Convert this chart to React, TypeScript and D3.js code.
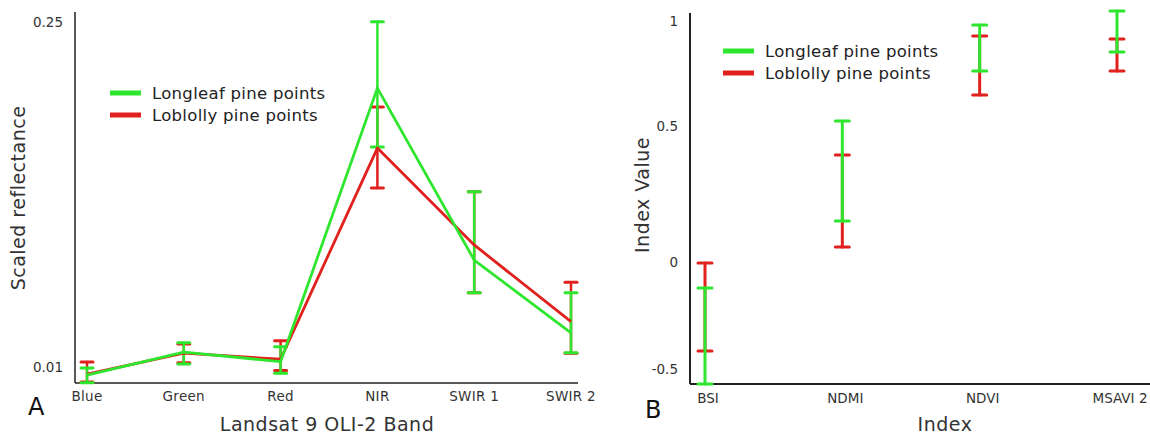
import React from "react";
import * as d3 from "d3";

// ---- Panel A data ----
const bands = ["Blue", "Green", "Red", "NIR", "SWIR 1", "SWIR 2"];
const longleafMean = [0.0044, 0.0204, 0.0137, 0.204, 0.0844, 0.0337];
const longleafHigh = [0.0093, 0.0269, 0.0241, 0.2502, 0.132, 0.0617];
const longleafLow = [-0.001, 0.0121, 0.0056, 0.163, 0.0617, 0.0199];
const loblollyMean = [0.005, 0.0197, 0.0154, 0.1623, 0.0949, 0.0415];
const loblollyHigh = [0.0135, 0.026, 0.0283, 0.1909, 0.132, 0.069];
const loblollyLow = [-0.0005, 0.013, 0.0075, 0.1345, 0.0617, 0.0195];
const yTicksA = [0.01, 0.25];

// ---- Panel B data ----
const indices = ["BSI", "NDMI", "NDVI", "MSAVI 2"];
const longleafIdxHigh = [-0.121, 0.524, 0.981, 1.048];
const longleafIdxLow = [-0.57, 0.151, 0.762, 0.852];
const loblollyIdxHigh = [-0.005, 0.393, 0.929, 0.914];
const loblollyIdxLow = [-0.416, 0.055, 0.648, 0.762];
const yTicksB = [-0.5, 0, 0.5, 1];
const yTickLabelsB = ["-0.5", "0", "0.5", "1"];

const seriesNames = ["Longleaf pine points", "Loblolly pine points"];
const GREEN = "#2fe62f";
const RED = "#e0211d";
const FONT = "'DejaVu Sans', sans-serif";

function ErrorBar({ x, y1, y2, color, cap, w }: any) {
  return (
    <g stroke={color} strokeLinecap="round">
      <line x1={x} x2={x} y1={y1} y2={y2} strokeWidth={w} />
      <line x1={x - cap / 2} x2={x + cap / 2} y1={y1} y2={y1} strokeWidth={3} />
      <line x1={x - cap / 2} x2={x + cap / 2} y1={y2} y2={y2} strokeWidth={3} />
    </g>
  );
}

export default function App() {
  // Panel A scales
  const xA = d3.scalePoint<string>().domain(bands).range([87, 571]);
  const yA = d3.scaleLinear().domain([0.01, 0.25]).range([367, 22]);
  const line = d3
    .line<number>()
    .x((_, i) => xA(bands[i]) as number)
    .y((d) => yA(d));

  // Panel B scales
  const xB = d3.scalePoint<string>().domain(indices).range([705, 1117]);
  const yB = d3.scaleLinear().domain([-0.5, 0, 0.5, 1]).range([369, 262, 126, 21]);

  const seriesA = [
    { mean: loblollyMean, hi: loblollyHigh, lo: loblollyLow, color: RED },
    { mean: longleafMean, hi: longleafHigh, lo: longleafLow, color: GREEN },
  ];
  const seriesB = [
    { hi: loblollyIdxHigh, lo: loblollyIdxLow, color: RED },
    { hi: longleafIdxHigh, lo: longleafIdxLow, color: GREEN },
  ];

  const legend = (x: number, y: number) => (
    <g fontFamily={FONT} fontSize={16.5} letterSpacing={0.3} fill="#222">
      {[GREEN, RED].map((c, i) => (
        <g key={i}>
          <line x1={x} x2={x + 31} y1={y + i * 22} y2={y + i * 22} stroke={c} strokeWidth={5} />
          <text x={x + 42} y={y + i * 22 + 6}>{seriesNames[i]}</text>
        </g>
      ))}
    </g>
  );

  const tickFs = 13.5;
  const titleFs = 19;

  return (
    <svg
      width={1150}
      height={436}
      style={{ position: "absolute", left: 0, top: 0, background: "#fff" }}
      fontFamily={FONT}
    >
      <rect width={1150} height={436} fill="#fff" />
      {/* ---------- Panel A ---------- */}
      <line x1={75} x2={75} y1={12} y2={383} stroke="#222" strokeWidth={1.5} />
      <line x1={75} x2={578} y1={383} y2={383} stroke="#222" strokeWidth={1.5} />
      {yTicksA.map((t) => (
        <text key={t} x={63} y={yA(t) + 5} textAnchor="end" fontSize={tickFs} fill="#333">
          {t.toFixed(2)}
        </text>
      ))}
      {bands.map((b) => (
        <text key={b} x={xA(b)} y={401} textAnchor="middle" fontSize={tickFs} letterSpacing={0.3} fill="#333">
          {b}
        </text>
      ))}
      <text
        transform={`translate(25,${198}) rotate(-90)`}
        textAnchor="middle"
        fontSize={titleFs}
        letterSpacing={0.5}
        fill="#333"
      >
        Scaled reflectance
      </text>
      <text x={327} y={431} textAnchor="middle" fontSize={titleFs} letterSpacing={0.5} fill="#333">
        Landsat 9 OLI-2 Band
      </text>
      <text x={28} y={415} fontSize={24} fill="#111">A</text>
      {seriesA.map((s, si) => (
        <g key={si}>
          {s.mean.map((_, i) => (
            <ErrorBar
              key={i}
              x={xA(bands[i])}
              y1={yA(s.hi[i])}
              y2={yA(s.lo[i])}
              color={s.color}
              cap={12}
              w={2.5}
            />
          ))}
        </g>
      ))}
      {seriesA.map((s, si) => (
        <path key={si} d={line(s.mean) as string} fill="none" stroke={s.color} strokeWidth={2.8} strokeLinejoin="round" />
      ))}
      {legend(110, 93)}

      {/* ---------- Panel B ---------- */}
      <line x1={690} x2={690} y1={13} y2={384} stroke="#222" strokeWidth={2} />
      <line x1={690} x2={1150} y1={384} y2={384} stroke="#222" strokeWidth={2} />
      {yTicksB.map((t, i) => (
        <text key={t} x={678} y={yB(t) + 5} textAnchor="end" fontSize={tickFs} fill="#333">
          {yTickLabelsB[i]}
        </text>
      ))}
      {indices.map((b) => (
        <text key={b} x={(xB(b) as number) + 3} y={403} textAnchor="middle" fontSize={tickFs} fill="#333">
          {b}
        </text>
      ))}
      <text
        transform={`translate(649,${195}) rotate(-90)`}
        textAnchor="middle"
        fontSize={titleFs}
        letterSpacing={0.5}
        fill="#333"
      >
        Index Value
      </text>
      <text x={945} y={431} textAnchor="middle" fontSize={titleFs} letterSpacing={0.5} fill="#333">
        Index
      </text>
      <text x={645} y={418} fontSize={24} fill="#111">B</text>
      {seriesB.map((s, si) => (
        <g key={si}>
          {s.hi.map((_, i) => (
            <ErrorBar
              key={i}
              x={xB(indices[i])}
              y1={yB(s.hi[i])}
              y2={yB(s.lo[i])}
              color={s.color}
              cap={14}
              w={3}
            />
          ))}
        </g>
      ))}
      {legend(723, 51)}
    </svg>
  );
}
